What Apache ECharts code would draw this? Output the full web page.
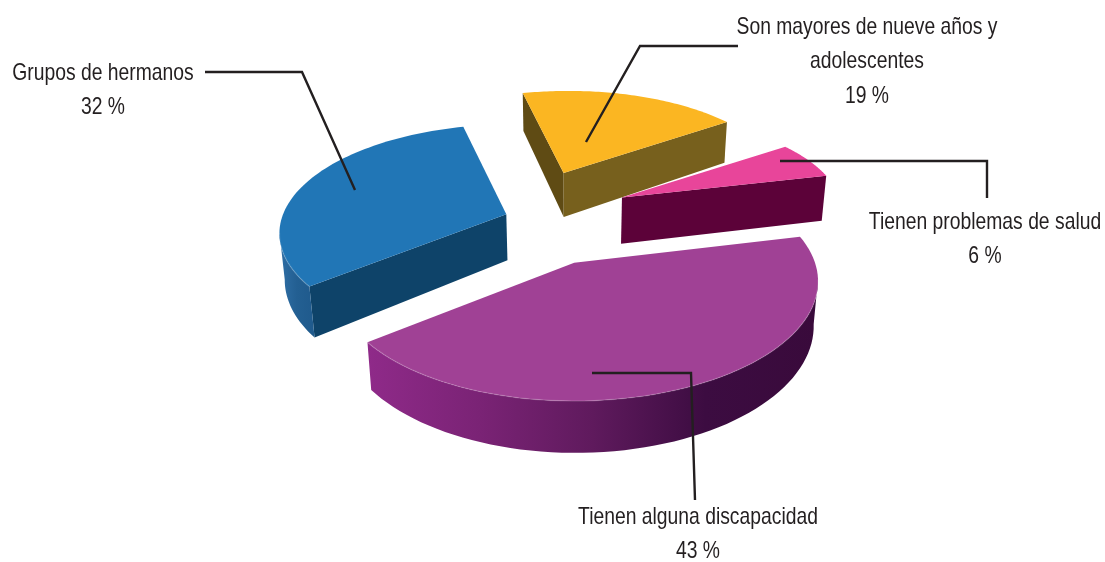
<!DOCTYPE html>
<html>
<head>
<meta charset="utf-8">
<style>html,body{margin:0;padding:0;background:#fff}#c{width:1105px;height:562px}</style>
<script src="https://cdn.jsdelivr.net/npm/echarts@6/dist/echarts.min.js"></script>
</head>
<body>
<div id="c"></div>
<script>
// ---- data ----
const categories = ['Son mayores de nueve años y\nadolescentes', 'Tienen problemas de salud', 'Tienen alguna discapacidad', 'Grupos de hermanos'];
const values = [19, 6, 43, 32];
const topColors = ['#fbb622', '#e8459a', '#a04195', '#2176b6'];
const sideColors = ['#77601d', '#5c0239', '#7a2474', '#0e4369'];
const edgeColors = ['#5f4b14', '#5c0239', '#7a2474', '#0e4369'];
const arcWallStops = [
  ['#77601d', '#77601d'],
  ['#5c0239', '#5c0239'],
  ['#8f2a89', '#7a2375', '#5f1a5d', '#3c0c41', '#390a3b'],
  ['#2f6fa6', '#235f92', '#1f5a8c']
];
const explode = [0.48, 0.48, 0.52, 0.09];
const sliceScaleX = [0.95, 0.95, 1.05, 1];
const sliceScaleY = [0.95, 0.95, 1.14, 1.04];
const wallHeight = [43, 45, 42, 45];
const labelAnchors = [[867, 10], [985, 205], [698, 500], [103, 56]];
const leaders = [
  [[738, 46], [640, 46], [586, 142]],
  [[780, 161], [987, 161], [987, 198]],
  [[592, 373], [691, 373], [695, 500]],
  [[205, 72], [302, 72], [355, 190]]
];
// ---- pie projection (tilted disc with perspective) ----
const centre = [525, 217];
const axisA = [-48.9, -95.5];
const axisB = [215, -23];
const persp = [0.9745, 0.1625, 0.0255];
const vanishX = 570;
const vanishK = 0.00039;
const total = values.reduce((a, b) => a + b, 0);

function disc(t) { return [Math.cos(t) * axisA[0] + Math.sin(t) * axisB[0], Math.cos(t) * axisA[1] + Math.sin(t) * axisB[1]]; }
function wOf(t) { return persp[0] + persp[1] * Math.cos(t) + persp[2] * Math.sin(t); }

function sliceGeom(idx) {
  let before = 0;
  for (let i = 0; i < idx; i++) before += values[i];
  const t0 = before / total * Math.PI * 2;
  const t1 = (before + values[idx]) / total * Math.PI * 2;
  const mid = disc((t0 + t1) / 2);
  const apex = [centre[0] + explode[idx] * mid[0], centre[1] + explode[idx] * mid[1]];
  const arc = [];
  const n = 72;
  for (let i = 0; i <= n; i++) {
    const t = t0 + (t1 - t0) * i / n;
    const d = disc(t), w = wOf(t);
    arc.push({ p: [apex[0] + sliceScaleX[idx] * d[0] / w, apex[1] + sliceScaleY[idx] * d[1] / w], h: wallHeight[idx] / w });
  }
  return { apex, arc, h0: wallHeight[idx] / persp[0] };
}
function down(p, h) { return [p[0] + (vanishX - p[0]) * vanishK * h, p[1] + h]; }

function renderSlice(params, api) {
  const idx = params.dataIndex;
  const g = sliceGeom(idx);
  const children = [];
  const pts = g.arc.map(a => a.p);
  const all = [g.apex].concat(pts);
  const mp = pts[Math.floor(pts.length / 2)];
  const inner = [(g.apex[0] + mp[0]) / 2, (g.apex[1] + mp[1]) / 2];

  function facesDown(a, b) {
    const dx = b[0] - a[0], dy = b[1] - a[1];
    let nx = dy, ny = -dx;
    if (nx * (inner[0] - a[0]) + ny * (inner[1] - a[1]) > 0) { ny = -ny; }
    return ny > 0;
  }
  // radial walls
  [[0, edgeColors[idx]], [pts.length - 1, sideColors[idx]]].forEach(([k, col]) => {
    const e = g.arc[k];
    if (facesDown(g.apex, e.p)) {
      children.push({ type: 'polygon', shape: { points: [g.apex, e.p, down(e.p, e.h), down(g.apex, g.h0)] }, style: { fill: col } });
    }
  });
  // outer wall
  let from = -1, to = -1;
  for (let i = 0; i < pts.length - 1; i++) {
    if (facesDown(pts[i], pts[i + 1])) { if (from < 0) from = i; to = i + 1; }
  }
  if (from >= 0) {
    const seg = g.arc.slice(from, to + 1);
    const poly = seg.map(a => a.p).concat(seg.slice().reverse().map(a => down(a.p, a.h)));
    const cols = arcWallStops[idx];
    const stops = cols.map((c, i) => ({ offset: i / (cols.length - 1), color: c }));
    children.push({
      type: 'polygon', shape: { points: poly },
      style: { fill: new echarts.graphic.LinearGradient(0, 0, 1, 0, stops) }
    });
  }
  children.push({ type: 'polygon', shape: { points: all }, style: { fill: topColors[idx] } });
  if (from >= 0) {
    children.push({
      type: 'polyline', shape: { points: g.arc.slice(from, to + 1).map(a => a.p) },
      style: { fill: null, stroke: 'rgba(255,255,255,0.14)', lineWidth: 1.5 }
    });
  }
  return { type: 'group', children };
}

function renderLabel(params, api) {
  const idx = params.dataIndex;
  const a = labelAnchors[idx];
  return {
    type: 'group',
    children: [
      { type: 'polyline', shape: { points: leaders[idx] }, style: { fill: null, stroke: '#231f20', lineWidth: 2.4 } },
      { type: 'text', x: a[0], y: a[1], scaleX: 0.805, scaleY: 1, style: {
        x: 0, y: 0, text: categories[idx] + '\n' + api.value(0) + ' %', align: 'center', verticalAlign: 'top',
        fill: '#231f20', lineHeight: 34.5,
        font: '24px "Liberation Sans", sans-serif'
      } }
    ]
  };
}
const seriesData = categories.map((c, i) => ({ name: c, value: [values[i]] }));
const chart = echarts.init(document.getElementById('c'), null, { renderer: 'canvas' });
chart.setOption({
  animation: false,
  backgroundColor: '#ffffff',
  series: [
    { type: 'custom', coordinateSystem: 'none', silent: true, z: 2, data: seriesData, renderItem: renderSlice },
    { type: 'custom', coordinateSystem: 'none', silent: true, z: 5, data: seriesData, renderItem: renderLabel }
  ]
});
</script>
</body>
</html>
